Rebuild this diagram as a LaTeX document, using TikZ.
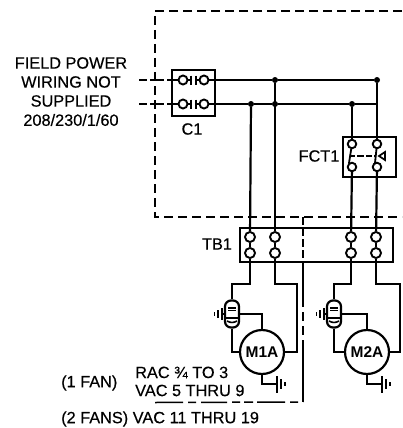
\documentclass[tikz,border=0pt]{standalone}
\usepackage{fontspec}
\setmainfont{Liberation Sans}[FakeBold=0.35]
\newfontfamily\motorfont{Liberation Sans Bold}
\tikzset{
  wire/.style={line width=2.2pt,line join=miter},
  boxline/.style={line width=2.1pt},
  fine/.style={line width=1.4pt},
  fence/.style={line width=1.5pt,dash pattern=on 9pt off 5pt},
  thinbox/.style={draw,boxline,inner sep=0pt},
  term/.style={circle,draw,line width=1.9pt,fill=white,minimum size=10pt,inner sep=0pt},
  junct/.style={circle,fill=black,minimum size=6pt,inner sep=0pt},
  lab/.style={font=\fontsize{16.3}{18}\selectfont,inner sep=0pt},
  pics/fanmotor/.style 2 args={code={
    \node[circle,draw,line width=2.2pt,minimum size=44pt,inner sep=0pt,font=\motorfont\fontsize{15.5}{17}\selectfont] (-motor) at (0,0) {#1};
    \begin{scope}[xshift=#2 pt]
    \node[draw,line width=2.2pt,rounded corners=6pt,minimum width=14pt,minimum height=27pt,inner sep=0pt] (-cap) at (0,-38) {};
    \draw[line width=1.6pt] (-4,-44) -- (4,-44) (-4,-41.5) -- (4,-41.5);
    \draw[line width=1.6pt] (-6,-34) -- (6,-34);
    \draw[line width=1.6pt] (-5,-31) to[bend right=30] (5,-31);
    \coordinate (-capg) at (-10,-38);
    \draw[wire] (-cap.west) -- (-capg);
    \draw[line width=2pt] (-10,-44) -- (-10,-32);
    \draw[line width=2pt] (-14,-42) -- (-14,-34);
    \draw[line width=1.8pt] (-17.5,-40) -- (-17.5,-36);
    \coordinate (-lft) at (0,0);
    \end{scope}
    \coordinate (-top) at (0,-38);
    \draw[wire] (-cap.east) -- (-top) -- (-motor.north);
    \draw[wire] (-cap.south) -- (-lft) -- (-motor.west);
    \coordinate (-bot) at (0,32);
    \coordinate (-gnd) at (15,32);
    \draw[wire] (-motor.south) -- (-bot) -- (-gnd);
    \draw[line width=2pt] (15,24) -- (15,41);
    \draw[line width=2pt] (19,27) -- (19,37);
    \draw[line width=1.8pt] (23,30) -- (23,34);
  }},
}
\begin{document}
\begin{tikzpicture}[x=1pt,y=-1pt]
\useasboundingbox (0,0) rectangle (402,428);

% fences
\coordinate (ftl) at (155,11);
\coordinate (ftr) at (402,11);
\coordinate (fbl) at (155,217);
\coordinate (fbr) at (402,217);
\draw[fence] (ftr) -- (ftl) -- (fbl) -- (fbr);
\coordinate (va) at (303,217);
\coordinate (vb) at (303,262);
\coordinate (vc) at (303,298);
\coordinate (vd) at (303,345);
\coordinate (ve) at (303,402);
\coordinate (bl) at (155,402.5);
\draw[fine,dash pattern=on 8pt off 3pt] (va) -- (vb);
\draw[fine] (vb) -- (vc);
\draw[fine,dash pattern=on 9pt off 5pt] (vc) -- (vd);
\draw[fine] (vd) -- (ve);
\draw[fence,dash pattern=on 28pt off 5pt on 8pt off 5pt on 26pt off 5pt on 8pt off 4pt on 9pt off 4pt] (bl) -- (ve);

% C1
\node[thinbox,minimum width=43pt,minimum height=46pt] (c1) at (193.5,93) {};
\node[lab] (c1l) at (192,129) {C1};
\coordinate (ina) at (139,80);
\coordinate (inb) at (139,104);
\coordinate (inax) at (169,80);
\coordinate (inbx) at (169,104);
\coordinate (ca) at (215,80);
\coordinate (cb) at (215,104);
\draw[wire,dash pattern=on 8pt off 3pt on 14pt off 3pt] (ina) -- (inax);
\draw[wire,dash pattern=on 8pt off 3pt on 14pt off 3pt] (inb) -- (inbx);
\foreach \n/\y in {a/80,b/104}{
  \node[term,minimum size=9pt] (c\n1) at (183,\y) {};
  \node[term,minimum size=9pt] (c\n2) at (204,\y) {};
  \coordinate (c\n3) at (190.5,\y);
  \coordinate (c\n4) at (196,\y);
  \draw[wire] (169,\y) -- (c\n1.west);
  \draw[wire] (c\n1.east) -- (c\n3);
  \draw[wire] (c\n4) -- (c\n2.west);
  \draw[wire] (c\n2.east) -- (215,\y);
  \draw[line width=2pt] (190.5,\y-4.5) -- (190.5,\y+4.5);
  \draw[line width=2pt] (196,\y-4.5) -- (196,\y+4.5);
}

% buses
\node[junct] (j1) at (275,80) {};
\node[junct] (j2) at (377,80) {};
\node[junct] (j3) at (251,104) {};
\node[junct] (j4) at (275,104) {};
\node[junct] (j5) at (352,104) {};
\coordinate (j6) at (377,104);
\draw[wire] (ca) -- (j1) -- (j2);
\draw[wire] (cb) -- (j3) -- (j4) -- (j5) -- (j6);

% FCT1
\node[thinbox,minimum width=53pt,minimum height=40pt] (fct) at (369.5,157) {};
\node[lab] (fctl) at (319,156) {FCT1};
\node[term,minimum size=8.5pt] (f1) at (352,144) {};
\node[term,minimum size=8.5pt] (f2) at (377,144) {};
\node[term,minimum size=8.5pt] (f3) at (352,167) {};
\node[term,minimum size=8.5pt] (f4) at (377,167) {};
\draw[wire] (j5) -- (f1);
\draw[wire] (j2) -- (f2);
\draw[line width=1.8pt] (f1) -- (349,163);
\draw[line width=1.8pt] (f2) -- (375,163);
\coordinate (da) at (351,156);
\coordinate (db) at (376,156);
\draw[line width=1.8pt,dash pattern=on 4pt off 2pt on 7pt off 2pt on 6pt off 2pt] (da) -- (db);
\draw[line width=1.7pt] (379,156) -- (385,152) -- (385,160) -- cycle;

% TB1
\node[thinbox,minimum width=153pt,minimum height=34pt] (tb) at (316.5,245) {};
\node[lab] (tbl) at (217,244) {TB1};
\foreach \n/\x in {a/250,b/275,c/351,d/376}{
  \node[term] (t\n1) at (\x,237) {};
  \node[term] (t\n2) at (\x,253) {};
  \draw[wire] (t\n1) -- (t\n2);
}
\draw[wire] (j3) -- (ta1);
\draw[wire] (j1) -- (tb1);
\draw[wire] (f3) -- (tc1);
\draw[wire] (f4) -- (td1);

% motors
\pic (M1) at (262,352) {fanmotor={M1A}{-30}};
\pic (M2) at (367,352) {fanmotor={M2A}{-33}};
\coordinate (p1) at (250,284);
\coordinate (p2) at (232,284);
\coordinate (p3) at (275,284);
\coordinate (p4) at (297,284);
\coordinate (p5) at (297,352);
\coordinate (q1) at (351,284);
\coordinate (q2) at (334,284);
\coordinate (q3) at (376,284);
\coordinate (q4) at (400,284);
\coordinate (q5) at (400,352);
\draw[wire] (ta2) -- (p1) -- (p2) -- (M1-cap.north);
\draw[wire] (tb2) -- (p3) -- (p4) -- (p5) -- (M1-motor.east);
\draw[wire] (tc2) -- (q1) -- (q2) -- (M2-cap.north);
\draw[wire] (td2) -- (q3) -- (q4) -- (q5) -- (M2-motor.east);

% text
\node[lab] (t1) at (71,63) {FIELD POWER};
\node[lab] (t2) at (71,82) {WIRING NOT};
\node[lab] (t3) at (71,101) {SUPPLIED};
\node[lab] (t4) at (71,120) {208/230/1/60};
\node[lab,anchor=west] (t5) at (61,383) {(1 FAN)};
\node[lab,anchor=west] (t6) at (135,372.5) {RAC ¾ TO 3};
\node[lab,anchor=west] (t7) at (135,390.5) {VAC 5 THRU 9};
\node[lab,anchor=west] (t8) at (61,419) {(2 FANS) VAC 11 THRU 19};
\end{tikzpicture}
\end{document}
